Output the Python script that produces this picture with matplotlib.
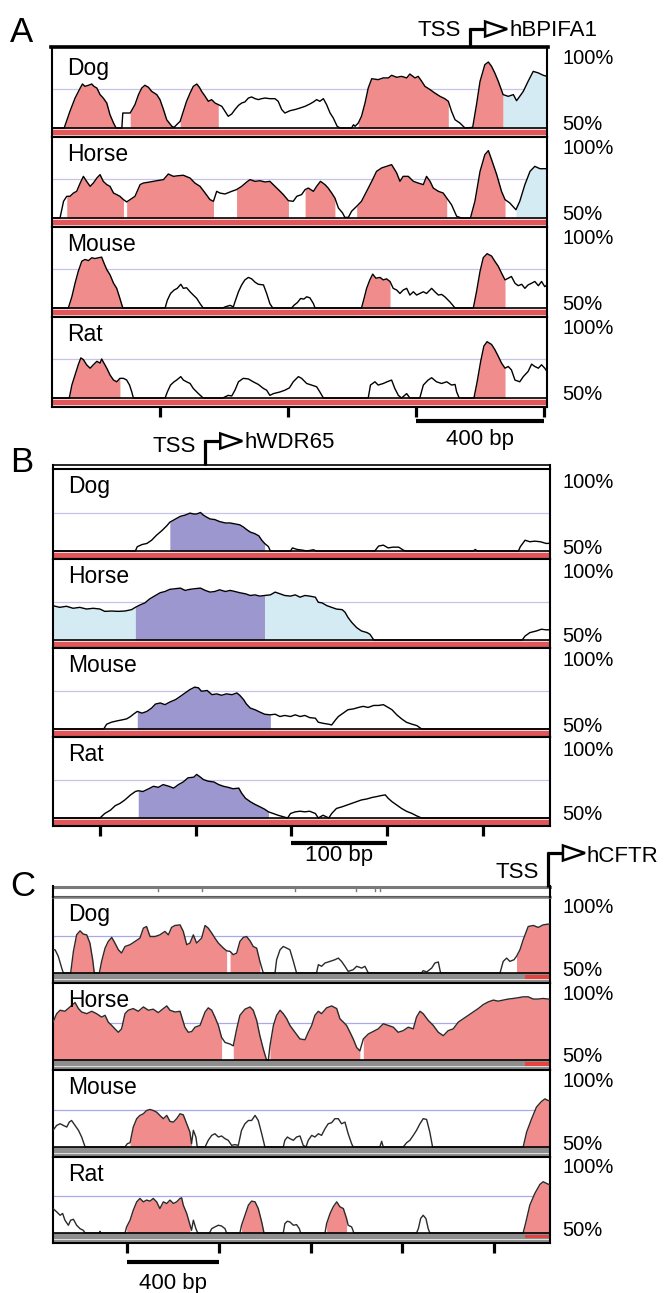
import numpy as np
import matplotlib
matplotlib.use("Agg")
import matplotlib.pyplot as plt
from matplotlib.patches import Polygon

plt.rcParams['font.family'] = ['Liberation Sans', 'DejaVu Sans']

species = ["Dog", "Horse", "Mouse", "Rat"]

# ---------------- panel A : hBPIFA1 (window length, bp) ----------------
a_len = 1545
a_tss = 1305
a_ticks = [337, 737, 1137, 1537]
a_scale = (1137, 1537)

a_dog = [(0,50),(38,50),(56,60.7),(72,69.2),(88,75.6),(95,78.2),(103,76.7),(114,77.4),(124,78.2),(131,76.7),
         (140,75.6),(150,71.4),(160,69.2),(171,66.0),(181,58.5),(192,53.2),(200,50),(218,50),(221,59.6),(244,59.6),
         (259,65.0),(270,71.4),(280,75.6),(290,77.4),(301,76.1),(311,73.5),(327,71.4),(337,68.2),(348,61.8),(358,55.3),
         (374,51.1),(381,50.4),(389,52.1),(400,54.3),(410,60.7),(420,67.1),(431,72.4),(441,76.7),(452,78.2),(460,76.1),
         (467,73.5),(478,70.3),(488,67.1),(498,68.2),(509,66.0),(519,65.0),(530,63.9),(540,60.7),(550,57.5),(561,59.0),
         (571,61.8),(582,64.5),(592,66.0),(602,66.7),(613,69.2),(623,69.9),(634,68.8),(644,68.2),(654,68.8),(665,69.2),
         (680,68.8),(696,68.8),(706,67.1),(717,61.8),(727,59.6),(743,61.1),(758,61.8),(774,62.8),(790,63.9),(805,65.4),
         (816,66.7),(826,68.2),(836,67.1),(847,68.8),(857,65.0),(868,59.6),(878,56.4),(890,51.1),(899,50),(935,50),
         (941,52.1),(946,51.1),(956,53.2),(966,57.5),(977,66.0),(987,75.6),(998,81.6),(1018,81.0),(1034,82.1),(1050,82.1),
         (1060,83.8),(1076,82.5),(1091,83.1),(1107,82.1),(1117,84.6),(1133,82.1),(1143,83.1),(1154,79.9),(1164,76.7),(1180,74.6),
         (1195,72.4),(1211,70.3),(1226,68.8),(1237,67.1),(1247,60.7),(1258,55.3),(1273,53.2),(1289,50),(1313,50.4),(1325,65.0),
         (1336,79.9),(1351,90.6),(1362,92.3),(1372,89.5),(1382,85.3),(1393,79.9),(1408,71.4),(1424,70.3),(1440,71.4),(1450,67.5),
         (1460,70.3),(1471,73.5),(1486,79.9),(1502,86.3),(1518,85.3),(1533,83.8),(1545,83.1)]
a_dog_fill = [(38,200,'cns'),(244,374,'cns'),(400,519,'cns'),(956,1237,'cns'),(1313,1408,'cns'),(1408,1545,'utr')]

a_horse = [(0,50),(25,50),(36,60.7),(46,63.9),(56,63.9),(67,66.0),(77,67.1),(88,72.4),(98,76.7),(108,73.5),
           (119,70.3),(129,72.4),(140,75.6),(150,77.8),(160,73.5),(171,71.4),(181,70.3),(192,66.0),(202,65.0),(212,63.9),
           (223,61.8),(233,60.3),(244,61.8),(259,63.9),(275,71.4),(285,72.4),(306,73.1),(327,73.9),(348,74.6),(363,78.2),
           (379,76.7),(394,77.1),(410,77.4),(431,75.6),(446,72.4),(462,70.3),(478,66.0),(493,61.8),(504,60.7),(514,67.1),
           (524,66.0),(540,65.4),(561,67.1),(576,68.2),(592,70.3),(608,73.1),(618,74.6),(634,73.5),(649,73.9),(665,73.1),
           (680,73.5),(696,70.3),(712,67.1),(722,65.0),(738,61.1),(753,60.7),(764,63.9),(779,65.0),(790,68.2),(800,69.2),
           (816,67.1),(826,70.3),(838,73.5),(852,71.4),(862,69.2),(873,66.0),(883,62.8),(894,56.4),(907,53.2),(914,50.4),
           (925,50.4),(935,54.3),(951,57.5),(966,60.7),(982,67.1),(998,73.5),(1013,79.9),(1029,82.1),(1044,83.1),(1060,84.2),
           (1076,78.8),(1086,73.5),(1096,76.7),(1112,76.7),(1128,73.5),(1143,72.4),(1159,71.4),(1169,76.7),(1180,73.5),(1190,69.2),
           (1206,67.1),(1221,66.0),(1232,62.8),(1247,58.5),(1263,51.1),(1278,50),(1306,50),(1320,60.7),(1336,79.9),(1351,90.6),
           (1362,93.2),(1372,87.4),(1388,77.8),(1403,67.1),(1414,61.8),(1429,59.6),(1448,55.3),(1460,60.7),(1476,71.4),(1492,79.9),
           (1507,83.1),(1523,81.6),(1545,81.6)]
a_horse_fill = [(46,223,'cns'),(233,504,'cns'),(576,738,'cns'),(790,883,'cns'),(951,1232,'cns'),(1306,1414,'cns'),
                (1448,1545,'utr')]

a_mouse = [(0,50),(51,50),(62,57.2),(72,65.9),(82,73.5),(93,80.0),(103,81.1),(114,80.4),(124,82.2),(134,81.7),
           (145,82.2),(155,82.6),(162,78.9),(171,74.6),(181,71.3),(192,65.9),(202,62.6),(212,56.1),(221,50),(353,50),
           (360,55.0),(370,59.3),(381,61.5),(391,62.6),(402,65.2),(410,62.6),(420,63.0),(431,60.4),(441,58.3),(452,56.1),
           (462,52.8),(472,50),(533,50),(540,50.7),(556,51.7),(566,50.7),(571,53.9),(582,60.4),(592,64.8),(602,68.0),
           (613,69.6),(623,68.7),(634,66.5),(644,65.2),(660,64.8),(670,59.3),(680,52.8),(689,50),(748,50),(755,51.7),
           (766,53.5),(776,56.1),(786,55.7),(795,57.2),(805,56.5),(816,52.8),(821,50),(966,50),(974,56.1),(982,62.6),
           (992,68.0),(1001,71.7),(1011,69.1),(1024,69.6),(1034,68.0),(1044,68.7),(1055,67.0),(1065,62.6),(1076,61.5),(1086,59.3),
           (1096,61.5),(1107,62.6),(1117,58.3),(1128,60.4),(1138,58.3),(1148,59.3),(1159,60.4),(1169,59.3),(1185,62.6),(1195,60.4),
           (1206,58.3),(1216,58.7),(1226,57.2),(1242,53.9),(1258,50),(1315,50),(1325,60.4),(1336,73.5),(1346,82.2),(1358,84.8),
           (1372,83.3),(1382,80.0),(1393,76.7),(1403,72.4),(1414,68.0),(1424,69.1),(1434,70.2),(1445,65.9),(1455,64.3),(1466,65.2),
           (1476,62.6),(1486,64.8),(1497,65.9),(1507,67.0),(1518,64.3),(1528,67.0),(1538,63.7),(1545,64.8)]
a_mouse_fill = [(51,221,'cns'),(966,1055,'cns'),(1315,1414,'cns')]

a_rat = [(0,50),(54,50),(62,58.3),(72,64.8),(82,71.3),(90,75.7),(98,74.6),(108,71.3),(119,69.1),(129,71.3),
         (140,73.5),(150,72.4),(155,75.0),(162,72.4),(171,69.1),(181,64.8),(192,61.5),(202,60.4),(212,62.6),(223,62.6),
         (233,61.5),(242,58.3),(249,53.9),(254,50),(353,50),(360,53.9),(370,58.3),(381,60.4),(389,61.5),(402,63.7),
         (410,61.5),(420,60.4),(431,59.3),(441,56.1),(457,52.8),(472,50),(533,50),(540,50.7),(550,51.7),(561,51.3),
         (571,55.0),(582,60.4),(597,62.6),(613,62.2),(628,60.4),(644,58.7),(660,56.1),(670,55.0),(680,51.7),(691,52.8),
         (712,53.9),(727,55.0),(741,56.5),(753,60.4),(769,63.7),(779,62.6),(795,59.3),(810,58.3),(826,57.2),(836,53.9),
         (847,50),(987,50),(994,58.3),(1008,60.4),(1018,58.3),(1034,59.3),(1046,60.4),(1060,61.5),(1070,56.1),(1081,51.7),
         (1091,50),(1107,52.8),(1117,50),(1148,50),(1159,58.3),(1174,61.5),(1185,63.0),(1200,60.4),(1216,59.3),(1232,60.4),
         (1247,58.3),(1258,58.7),(1263,53.9),(1271,50),(1317,50),(1327,60.4),(1338,73.5),(1348,83.3),(1358,86.1),(1372,84.3),
         (1382,81.1),(1393,76.7),(1403,72.4),(1414,69.1),(1424,70.2),(1434,68.0),(1445,61.5),(1460,60.4),(1471,63.7),(1486,67.0),
         (1497,71.7),(1507,70.2),(1518,69.1),(1528,71.3),(1538,69.1),(1545,67.0)]
a_rat_fill = [(54,212,'cns'),(1317,1414,'cns')]

# ---------------- panel B : hWDR65 ----------------
b_len = 519
b_tss = 159
b_ticks = [49, 149, 249, 349, 449]
b_scale = (249, 349)

b_dog = [(0,50),(86,50),(88,52.8),(93,54.2),(98,54.9),(103,57.0),(108,60.2),(114,63.4),(119,66.5),(122,68.7),
         (128,70.8),(133,72.5),(138,73.3),(143,74.6),(147,74.0),(150,74.0),(154,75.0),(157,73.3),(161,71.8),(164,70.8),
         (169,70.4),(174,69.1),(180,68.2),(185,68.2),(190,67.6),(195,67.0),(199,65.5),(202,64.0),(206,62.3),(211,61.2),
         (215,59.8),(218,57.0),(221,54.9),(225,52.8),(227,50),(248,50),(250,52.0),(255,51.0),(261,50.5),(265,50),
         (272,50.8),(275,50),(336,50),(340,53.2),(345,53.8),(350,52.0),(355,52.5),(361,52.5),(366,50.5),(368,50),
         (439,50),(441,51.0),(443,50),(486,50),(488,52.8),(493,57.0),(498,56.0),(503,56.4),(509,56.0),(515,54.9),(519,55.0)]
b_dog_fill = [(122,221,'exon')]

b_horse = [(0,72.3),(7,71.2),(14,71.9),(21,70.6),(28,71.2),(35,70.1),(42,70.6),(49,70.1),(54,68.6),(61,68.8),
           (68,68.6),(75,68.8),(82,69.7),(86,71.2),(91,72.8),(96,74.1),(101,76.7),(107,78.9),(112,80.7),(117,81.5),
           (122,82.9),(128,83.3),(133,83.7),(138,82.2),(143,82.9),(148,83.3),(154,83.7),(159,82.2),(164,81.1),(169,81.5),
           (174,82.6),(180,81.5),(185,82.2),(190,81.5),(195,80.7),(201,80.0),(206,78.9),(211,79.3),(216,78.5),(221,78.9),
           (227,79.3),(232,81.1),(237,80.0),(242,78.9),(248,78.5),(253,79.3),(258,77.8),(263,78.9),(268,78.5),(274,77.8),
           (277,74.5),(281,74.1),(286,72.3),(291,71.2),(296,70.1),(302,69.7),(305,68.0),(308,64.7),(312,61.4),(317,58.1),
           (322,55.9),(328,54.8),(331,53.7),(335,50),(490,50),(493,52.6),(498,54.8),(505,55.9),(510,57.0),(515,56.6),(519,56.6)]
b_horse_fill = [(0,86,'utr'),(86,221,'exon'),(221,335,'utr')]

b_mouse = [(0,50),(53,50),(56,53.1),(61,54.4),(67,55.3),(72,55.9),(77,56.6),(81,58.1),(84,59.6),(88,61.4),
           (93,60.3),(98,61.4),(103,63.6),(107,66.2),(112,66.9),(117,65.8),(122,67.5),(128,69.1),(133,71.2),(138,73.4),
           (143,75.6),(148,77.2),(152,76.7),(155,74.5),(161,75.0),(166,72.3),(171,72.8),(176,71.9),(181,72.8),(187,72.3),
           (192,73.4),(195,71.9),(199,69.1),(202,66.2),(206,63.6),(211,62.5),(216,61.0),(221,59.6),(227,59.2),(232,59.6),
           (237,58.1),(242,58.8),(248,58.1),(253,59.2),(258,58.1),(263,58.8),(268,57.4),(274,57.0),(277,54.4),(282,53.7),
           (288,53.1),(291,52.6),(295,55.9),(298,58.1),(303,60.3),(308,62.5),(314,63.1),(319,64.0),(324,64.7),(329,64.0),
           (335,65.3),(340,65.3),(345,65.8),(350,64.0),(354,62.5),(359,59.2),(364,56.6),(369,54.4),(375,53.1),(380,52.2),
           (385,50),(519,50)]
b_mouse_fill = [(88,227,'exon')]

b_rat = [(0,50),(49,50),(54,52.9),(60,55.1),(65,58.0),(70,59.5),(75,61.7),(81,65.0),(86,67.2),(89,67.7),
         (94,67.2),(100,69.0),(105,70.6),(110,69.9),(115,71.7),(121,70.6),(126,69.4),(131,71.7),(136,73.4),(141,76.1),
         (147,76.5),(150,78.3),(154,76.5),(157,75.0),(162,73.9),(168,73.4),(173,71.7),(178,70.6),(183,69.9),(188,69.0),
         (194,69.4),(197,66.1),(201,62.8),(206,60.6),(211,58.8),(216,57.3),(221,55.7),(225,54.0),(230,52.9),(235,51.8),
         (241,50.7),(245,50),(248,52.9),(253,54.0),(258,54.4),(263,54.0),(268,54.4),(274,52.9),(277,50),(282,51.8),
         (288,50),(291,52.9),(296,56.2),(302,57.3),(307,58.4),(312,59.5),(317,60.6),(322,61.7),(328,62.4),(333,63.3),
         (338,63.9),(343,64.6),(347,65.0),(350,62.8),(354,60.6),(359,58.4),(364,56.2),(369,54.4),(375,52.9),(380,51.3),
         (385,50),(519,50)]
b_rat_fill = [(89,225,'exon')]

# ---------------- panel C : hCFTR ----------------
c_len = 2167
c_tss = 2158
c_ticks = [323, 723, 1123, 1523, 1923]
c_scale = (323, 723)
c_marks = [458, 650, 1055, 1321, 1404, 1426]
c_red_span = (2058, 2167)
c_red_species = ["Dog", "Horse", "Rat"]

c_dog = [(0,65.6),(9,65.6),(23,61.2),(38,53.3),(45,50),(77,50),(89,64.5),(103,75.6),(118,78.3),(132,76.1),
         (147,75.6),(161,70.1),(173,58.9),(180,50),(202,50),(212,57.8),(227,66.7),(241,71.2),(256,73.9),(270,70.1),
         (285,65.6),(299,63.4),(314,67.8),(336,69.0),(358,71.2),(379,73.4),(394,80.1),(408,81.2),(423,74.5),(445,74.5),
         (466,75.6),(488,77.9),(503,75.6),(517,80.6),(532,81.9),(554,82.3),(568,77.9),(583,69.0),(597,70.1),(612,75.6),
         (626,70.1),(648,73.4),(663,81.9),(677,80.1),(692,76.8),(706,73.4),(721,70.1),(743,66.7),(757,64.9),(772,64.5),
         (786,62.3),(801,63.4),(815,71.2),(830,73.9),(844,74.5),(859,71.6),(873,67.8),(888,66.7),(902,57.8),(917,50),
         (968,50),(975,58.9),(990,65.6),(1004,67.8),(1019,66.7),(1033,65.6),(1048,57.8),(1062,50),(1149,50),(1157,55.6),
         (1171,54.5),(1186,56.7),(1208,57.8),(1229,58.9),(1244,60.0),(1258,57.8),(1273,54.5),(1287,51.1),(1309,52.2),(1324,54.5),
         (1346,53.3),(1360,54.5),(1375,50),(1607,50),(1614,51.6),(1629,50.7),(1651,53.3),(1665,56.7),(1680,57.4),(1690,50),
         (1949,50),(1963,57.8),(1978,60.0),(1992,57.8),(2010,58.9),(2021,61.2),(2036,65.6),(2050,72.3),(2072,81.2),(2094,81.9),
         (2116,80.6),(2137,82.3),(2159,82.8),(2167,82.8)]
c_dog_fill = [(77,180,'cns'),(202,757,'cns'),(772,902,'cns'),(2021,2167,'cns')]

c_horse = [(0,75.4),(16,81.1),(31,83.4),(52,82.7),(74,85.6),(96,88.6),(111,84.5),(125,82.2),(147,81.1),(169,82.7),
           (190,81.1),(212,78.8),(227,80.0),(241,75.4),(256,73.2),(270,70.9),(285,68.6),(299,70.9),(314,81.1),(328,83.4),
           (350,84.5),(372,82.7),(394,85.6),(416,83.4),(437,84.1),(459,81.8),(481,84.5),(496,86.3),(510,83.4),(532,82.2),
           (554,82.7),(575,72.0),(590,68.6),(605,69.1),(619,72.0),(641,73.2),(663,82.2),(677,85.0),(692,83.4),(706,78.8),
           (721,73.2),(735,65.2),(750,61.8),(772,60.7),(786,59.5),(801,70.9),(815,80.0),(837,84.1),(859,85.6),(873,83.4),
           (888,76.6),(902,66.3),(917,57.3),(931,50),(939,50),(946,59.5),(961,73.2),(975,80.0),(990,83.4),(1004,81.1),
           (1019,77.7),(1033,73.2),(1055,68.6),(1077,64.1),(1099,63.6),(1113,68.6),(1128,73.2),(1142,80.0),(1157,82.7),(1171,81.1),
           (1193,85.0),(1215,86.3),(1237,84.5),(1251,77.7),(1266,75.4),(1280,73.2),(1295,68.6),(1309,64.1),(1324,58.4),(1338,56.1),
           (1353,64.1),(1375,67.5),(1396,69.1),(1418,70.9),(1440,74.3),(1462,73.2),(1484,72.0),(1505,68.6),(1527,69.7),(1549,72.0),
           (1571,70.9),(1585,78.8),(1600,82.7),(1614,81.1),(1636,76.6),(1658,73.2),(1680,68.6),(1702,66.3),(1723,69.7),(1745,70.9),
           (1767,75.4),(1789,77.7),(1811,80.0),(1832,82.2),(1854,84.5),(1876,87.2),(1898,89.0),(1920,90.2),(1941,89.5),(1963,90.2),
           (1985,90.9),(2007,91.3),(2028,91.8),(2050,92.4),(2072,92.4),(2094,90.9),(2116,90.9),(2137,91.3),(2159,90.9),(2167,90.9)]
c_horse_fill = [(0,735,'cns'),(786,931,'cns'),(946,1338,'cns'),(1353,2167,'cns')]

c_mouse = [(0,61.2),(16,64.5),(31,65.6),(45,64.5),(60,63.4),(71,66.7),(81,67.8),(96,64.5),(111,61.2),(125,56.7),
           (140,50),(314,50),(324,52.2),(336,52.9),(350,63.4),(365,69.0),(379,71.2),(394,72.3),(408,74.5),(423,75.2),
           (437,74.5),(452,73.4),(466,71.2),(481,69.0),(496,71.2),(510,67.2),(525,66.7),(539,69.0),(554,72.3),(568,71.6),
           (583,65.6),(597,60.0),(604,52.2),(612,61.2),(623,56.7),(629,50),(663,50),(677,54.5),(692,57.8),(706,58.9),
           (721,56.7),(735,57.4),(750,55.6),(764,54.5),(779,51.1),(793,51.6),(808,51.1),(822,61.2),(837,65.6),(852,67.8),
           (866,67.8),(881,71.2),(895,67.8),(910,58.9),(924,50),(1004,50),(1011,54.5),(1022,56.7),(1033,55.6),(1048,54.5),
           (1062,56.7),(1077,57.4),(1091,51.1),(1103,50),(1113,54.5),(1128,57.8),(1142,56.7),(1157,58.9),(1171,57.8),(1186,62.3),
           (1200,65.6),(1215,66.3),(1229,69.0),(1244,69.0),(1258,65.6),(1273,66.7),(1287,58.9),(1302,52.2),(1309,50),(1425,50),
           (1433,53.8),(1440,50),(1527,50),(1542,52.9),(1556,54.5),(1571,57.8),(1585,61.2),(1600,65.6),(1614,69.0),(1629,68.5),
           (1643,60.0),(1655,50),(2050,50),(2065,60.0),(2087,69.0),(2108,76.8),(2130,80.6),(2145,82.3),(2159,81.2),(2167,81.0)]
c_mouse_fill = [(336,604,'cns'),(2050,2167,'cns')]

c_rat = [(0,66.4),(16,64.2),(31,61.9),(42,63.1),(52,58.6),(67,55.2),(77,58.6),(89,59.2),(103,55.2),(118,52.9),
         (132,51.8),(140,50),(202,50),(205,51.1),(208,50),(314,50),(321,54.1),(336,58.6),(350,65.3),(365,70.9),
         (379,73.2),(394,70.9),(408,72.1),(423,71.4),(437,73.2),(452,70.9),(466,66.4),(481,70.9),(496,69.8),(510,72.1),
         (525,69.8),(539,70.9),(554,73.2),(561,73.6),(568,68.7),(583,63.1),(597,55.6),(604,51.8),(612,58.6),(623,52.9),
         (631,50),(682,50),(692,52.9),(706,54.1),(721,55.2),(735,54.7),(750,52.9),(757,50),(815,50),(822,55.2),
         (837,61.9),(852,68.7),(866,71.4),(881,70.9),(895,66.4),(910,57.4),(920,50),(1004,50),(1011,56.3),(1022,57.9),
         (1033,57.4),(1048,55.2),(1062,55.6),(1074,52.9),(1080,50),(1186,50),(1193,56.3),(1208,63.1),(1222,67.6),(1237,70.9),
         (1251,67.6),(1266,66.4),(1280,59.7),(1287,55.2),(1302,54.1),(1312,50),(1585,50),(1593,52.9),(1603,59.7),(1614,61.9),
         (1626,59.7),(1636,52.9),(1643,50),(2050,50),(2062,57.4),(2079,68.7),(2101,76.6),(2123,82.6),(2137,84.4),(2152,83.3),
         (2167,82.2)]
c_rat_fill = [(321,597,'cns'),(822,920,'cns'),(1193,1280,'cns'),(2050,2167,'cns')]

# ---------------- drawing ----------------
W, H = 666, 1293
fig = plt.figure(figsize=(W / 100, H / 100), dpi=100)

ov = fig.add_axes([0, 0, 1, 1], zorder=10)
ov.set_xlim(0, W)
ov.set_ylim(H, 0)
ov.axis('off')

kind_color = {'cns': '#f08c8c', 'utr': '#d5ebf3', 'exon': '#9c97cf'}

panels = [
    dict(letter='A', letter_y=33, gene='hBPIFA1', tss=a_tss, tss_top=29, tss_y=31, gene_y=30,
         tracks=[a_dog, a_horse, a_mouse, a_rat], fills=[a_dog_fill, a_horse_fill, a_mouse_fill, a_rat_fill],
         L=52, R=547, xmax=a_len, base=[128, 218, 308, 398], ppp=1.56, top=47, bot=9, bar='red',
         grid='#c6c2ea', ticks=a_ticks, scale=a_scale, scale_y=421, scale_txt='400 bp', scale_txt_y=440),
    dict(letter='B', letter_y=463, gene='hWDR65', tss=b_tss, tss_top=441, tss_y=447, gene_y=443,
         tracks=[b_dog, b_horse, b_mouse, b_rat], fills=[b_dog_fill, b_horse_fill, b_mouse_fill, b_rat_fill],
         L=53, R=550, xmax=b_len, base=[551, 640, 729, 818], ppp=1.54, top=469, bot=8, bar='red',
         grid='#c6c2ea', ticks=b_ticks, scale=b_scale, scale_y=843, scale_txt='100 bp', scale_txt_y=856),
    dict(letter='C', letter_y=887, gene='hCFTR', tss=c_tss, tss_top=853, tss_y=873, gene_y=857,
         tracks=[c_dog, c_horse, c_mouse, c_rat], fills=[c_dog_fill, c_horse_fill, c_mouse_fill, c_rat_fill],
         L=53, R=550, xmax=c_len, base=[973, 1060, 1147, 1233], ppp=1.49, top=897, bot=10, bar='gray',
         grid='#a8a8ea', ticks=c_ticks, scale=c_scale, scale_y=1262, scale_txt='400 bp', scale_txt_y=1283),
]


def to_px(ax, v):
    return ax.transData.transform((v, 0))[0]


for p in panels:
    ppp = p['ppp']
    axes = []
    for i, name in enumerate(species):
        base = p['base'][i]
        top = p['top'] if i == 0 else p['base'][i - 1] + p['bot']
        bottom = base + p['bot']
        ax = fig.add_axes([p['L'] / W, 1 - bottom / H, (p['R'] - p['L']) / W, (bottom - top) / H])
        ymin = 50 - (bottom - base) / ppp
        ymax = 50 + (base - top) / ppp
        ax.set_xlim(0, p['xmax'])
        ax.set_ylim(ymin, ymax)
        ax.set_xticks([])
        ax.set_yticks([])
        for s in ax.spines.values():
            s.set_linewidth(1.5)
            s.set_color('black')

        # bar under the curve
        if p['bar'] == 'red':
            ax.axhspan(ymin, 50, color='#f6d2d2', lw=0, zorder=0)
            ax.axhspan(50 - 7 / ppp, 50 - 2.3 / ppp, color='#e0565a', lw=0, zorder=1)
        else:
            ax.axhspan(ymin, 50, color='#8e8e8e', lw=0, zorder=0)
            ax.axhspan(50 - 7 / ppp, 50 - 6 / ppp, color='#dedede', lw=0, zorder=1)
            if name in c_red_species:
                ax.fill_between(c_red_span, 50 - 5.5 / ppp, 50 - 2 / ppp, color='#e8423f', lw=0, zorder=2)

        ax.axhline(75, color=p['grid'], lw=0.9, zorder=0)

        pts = np.array(p['tracks'][i], dtype=float)
        x, y = pts[:, 0], pts[:, 1]
        for a, b, kind in p['fills'][i]:
            ax.fill_between(x, 50, y, where=(x >= a) & (x <= b), color=kind_color[kind], lw=0, zorder=2)
        lc = 'black' if p['bar'] == 'red' else '#2a2a2a'
        ax.plot(x, y, color=lc, lw=1.0, zorder=3)
        ax.axhline(50, color='black', lw=1.2, zorder=4)
        axes.append(ax)

        # labels
        off = 28 if (p['letter'] == 'A' and i == 0) else 24
        ov.text(p['L'] + 15, top + off, name, fontsize=16.5, va='baseline', ha='left')
        ov.text(562, base - 50 * ppp + 9, '100%', fontsize=14.5, va='center', ha='left')
        ov.text(562, base - 3, '50%', fontsize=14.5, va='center', ha='left')

    # bottom ticks
    axb = axes[-1]
    axb.set_xticks(p['ticks'])
    axb.tick_params(axis='x', direction='out', length=7.4, width=2.3, color='black', labelbottom=False)

    # scale bar
    x0, x1 = to_px(axb, p['scale'][0]), to_px(axb, p['scale'][1])
    ov.plot([x0, x1], [p['scale_y'], p['scale_y']], color='black', lw=3, solid_capstyle='butt')
    ov.text((x0 + x1) / 2, p['scale_txt_y'], p['scale_txt'], fontsize=16, ha='center', va='center')

    # panel top frame
    L, R, t = p['L'], p['R'], p['top']
    if p['letter'] == 'A':
        ov.plot([L - 1, R + 1], [t - 0.5, t - 0.5], color='black', lw=2.6)
        box_top = t - 1
    elif p['letter'] == 'B':
        ov.plot([L, R], [t - 4, t - 4], color='black', lw=1.2)
        ov.plot([L, R], [t - 0.5, t - 0.5], color='black', lw=1.2)
        ov.plot([L, L], [t - 4, t], color='black', lw=1.5)
        ov.plot([R, R], [t - 4, t], color='black', lw=1.5)
        box_top = t - 4
    else:
        ov.plot([L, R], [t - 10.5, t - 10.5], color='#7a7a7a', lw=2.2)
        ov.plot([L, R], [t - 0.5, t - 0.5], color='#7a7a7a', lw=1.8)
        ov.plot([L, L], [t - 11, t], color='black', lw=1.5)
        ov.plot([R, R], [t - 11, t], color='black', lw=1.5)
        for m in c_marks:
            xm = to_px(axes[0], m)
            ov.plot([xm, xm], [t - 10, t - 6], color='#7a7a7a', lw=1)
        box_top = t - 10

    # TSS arrow
    xt = to_px(axes[0], p['tss'])
    yt = p['tss_top']
    ov.plot([xt, xt], [box_top, yt - 1], color='black', lw=2.3, solid_capstyle='butt')
    ov.plot([xt - 1, xt + 15], [yt, yt], color='black', lw=2.3, solid_capstyle='butt')
    ov.add_patch(Polygon([[xt + 15, yt - 7.5], [xt + 15, yt + 7.5], [xt + 37, yt]], closed=True,
                         fc='white', ec='black', lw=1.8))
    ov.text(xt - 9, p['tss_y'], 'TSS', fontsize=16, ha='right', va='center')
    ov.text(xt + 39, p['gene_y'], p['gene'], fontsize=16, ha='left', va='center')

    ov.text(10, p['letter_y'], p['letter'], fontsize=25, ha='left', va='center')

fig.savefig('out.png', dpi=100)
